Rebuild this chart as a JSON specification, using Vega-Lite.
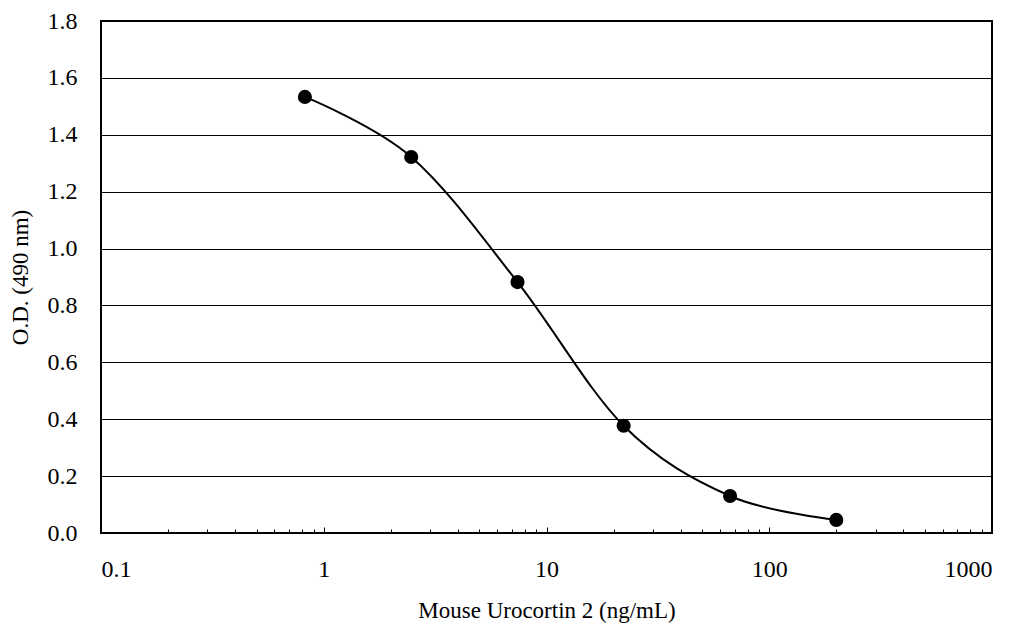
{
  "$schema": "https://vega.github.io/schema/vega-lite/v6.json",
  "width": 891,
  "height": 512,
  "autosize": "none",
  "padding": {"left": 101, "top": 21, "right": 25, "bottom": 91},
  "background": "white",
  "data": {
    "values": [
      {"conc": 0.823, "od": 1.533},
      {"conc": 2.47, "od": 1.322},
      {"conc": 7.41, "od": 0.882},
      {"conc": 22.2, "od": 0.377},
      {"conc": 66.7, "od": 0.130},
      {"conc": 200, "od": 0.046}
    ]
  },
  "encoding": {
    "x": {
      "field": "conc",
      "type": "quantitative",
      "scale": {"type": "log", "domain": [0.1, 1000], "nice": false},
      "axis": {
        "title": "Mouse Urocortin 2 (ng/mL)",
        "values": [0.1, 0.2, 0.3, 0.4, 0.5, 0.6, 0.7, 0.8, 0.9,
                   1, 2, 3, 4, 5, 6, 7, 8, 9,
                   10, 20, 30, 40, 50, 60, 70, 80, 90,
                   100, 200, 300, 400, 500, 600, 700, 800, 900, 1000],
        "labelExpr": "indexof([0.1, 1, 10, 100, 1000], datum.value) >= 0 ? format(datum.value, '~g') : ''",
        "grid": false,
        "domain": false,
        "tickColor": "black",
        "tickWidth": 1,
        "tickSize": {
          "condition": {"test": "indexof([0.1, 1, 10, 100, 1000], datum.value) >= 0", "value": -6},
          "value": -4
        },
        "labelPadding": 30,
        "labelBaseline": "top",
        "titlePadding": 18
      }
    },
    "y": {
      "field": "od",
      "type": "quantitative",
      "scale": {"domain": [0, 1.8], "nice": false},
      "axis": {
        "title": "O.D. (490 nm)",
        "values": [0, 0.2, 0.4, 0.6, 0.8, 1.0, 1.2, 1.4, 1.6, 1.8],
        "format": ".1f",
        "grid": true,
        "gridColor": "black",
        "gridWidth": 1,
        "gridOpacity": 1,
        "ticks": false,
        "domain": false,
        "labelPadding": 24,
        "titlePadding": 15
      }
    }
  },
  "layer": [
    {
      "mark": {"type": "line", "interpolate": "cardinal", "color": "black", "strokeWidth": 2}
    },
    {
      "mark": {"type": "circle", "size": 200, "color": "black", "opacity": 1}
    }
  ],
  "config": {
    "view": {"stroke": "black", "strokeWidth": 2},
    "axis": {
      "labelFont": "Liberation Serif",
      "labelFontSize": 24,
      "labelColor": "black",
      "titleFont": "Liberation Serif",
      "titleFontSize": 23,
      "titleFontWeight": "normal",
      "titleColor": "black"
    }
  }
}
